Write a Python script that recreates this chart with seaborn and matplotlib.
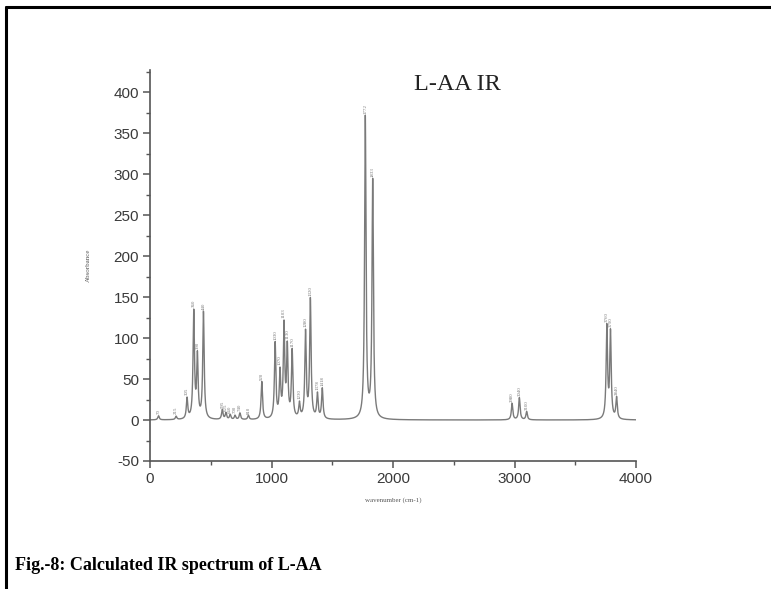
import numpy as np
import pandas as pd
import matplotlib
matplotlib.use("Agg")
import matplotlib.pyplot as plt
import seaborn as sns
from matplotlib.ticker import MultipleLocator
from matplotlib.lines import Line2D

# Peak list (wavenumber cm-1, absorbance)
peak_wn = [70, 215, 305, 360, 390, 440, 595, 625, 660, 700, 740, 810,
           920, 1030, 1070, 1103, 1130, 1170, 1230, 1280, 1320, 1378, 1418,
           1772, 1833, 2980, 3040, 3100, 3760, 3790, 3840]
peak_abs = [5, 4, 25, 130, 75, 130, 12, 8, 6, 5, 8, 5,
            46, 92, 55, 112, 85, 82, 18, 105, 145, 30, 37,
            368, 290, 20, 27, 10, 112, 105, 26]
peak_labels = [str(w) for w in peak_wn]
half_width = 7.0

wn = np.linspace(0, 4000, 8001)
absorb = np.zeros_like(wn)
for p, h in zip(peak_wn, peak_abs):
    absorb += h * half_width**2 / ((wn - p) ** 2 + half_width**2)
df = pd.DataFrame({"wavenumber": wn, "absorbance": absorb})

sns.set_theme(style="ticks")
plt.rcParams['font.family'] = ['Liberation Sans', 'DejaVu Sans']
plt.rcParams['axes.unicode_minus'] = False

fig = plt.figure(figsize=(7.71, 5.89), dpi=100)
W, H = 771, 589
ax = fig.add_axes([150 / W, (H - 461) / H, (636 - 150) / W, (461 - 70) / H])

sns.lineplot(data=df, x="wavenumber", y="absorbance", ax=ax,
             color="#7a7a7a", linewidth=1.0)

# peak labels
for p, lab in zip(peak_wn, peak_labels):
    i = int(round(p * 2))
    top = absorb[i]
    ax.text(p, top + 2, lab, rotation=90, ha="center", va="bottom",
            fontsize=3.5, color="#777777", family="Liberation Serif")

ax.set_xlim(0, 4000)
ax.set_ylim(-50, 427)
ax.xaxis.set_major_locator(MultipleLocator(1000))
ax.xaxis.set_minor_locator(MultipleLocator(500))
ax.yaxis.set_major_locator(MultipleLocator(50))
ax.yaxis.set_minor_locator(MultipleLocator(25))
ax.spines["top"].set_visible(False)
ax.spines["right"].set_visible(False)
for s in ("left", "bottom"):
    ax.spines[s].set_color("#555555")
    ax.spines[s].set_linewidth(1.2)
ax.tick_params(axis="both", which="major", direction="out", length=5,
               width=1.1, color="#555555", labelsize=11, labelcolor="#3a3a3a", pad=3)
ax.tick_params(axis="both", which="minor", direction="out", length=3,
               width=1.0, color="#555555")
ax.set_xlabel("wavenumber (cm-1)", fontsize=5, color="#555555",
              family="Liberation Serif", labelpad=8)
ax.set_ylabel("Absorbance", fontsize=5, color="#555555",
              family="Liberation Serif", labelpad=16)
ax.set_facecolor("white")

ax.text(414 / W, 1 - 85 / H, "L-AA IR", transform=fig.transFigure, fontsize=17.5,
        family="Liberation Serif", color="#222222", ha="left", va="center")

# outer frame (left and top edges)
fig.add_artist(Line2D([6 / W, 6 / W], [0, 1 - 7 / H], transform=fig.transFigure,
                      color="black", linewidth=2.2))
fig.add_artist(Line2D([6 / W, 1], [1 - 7 / H, 1 - 7 / H], transform=fig.transFigure,
                      color="black", linewidth=2.2))

fig.text(15 / W, 1 - 565 / H, "Fig.-8: Calculated IR spectrum of L-AA",
         fontsize=13, fontweight="bold", family="Liberation Serif",
         color="black", ha="left", va="center")

fig.savefig("out.png", dpi=100, facecolor="white")
